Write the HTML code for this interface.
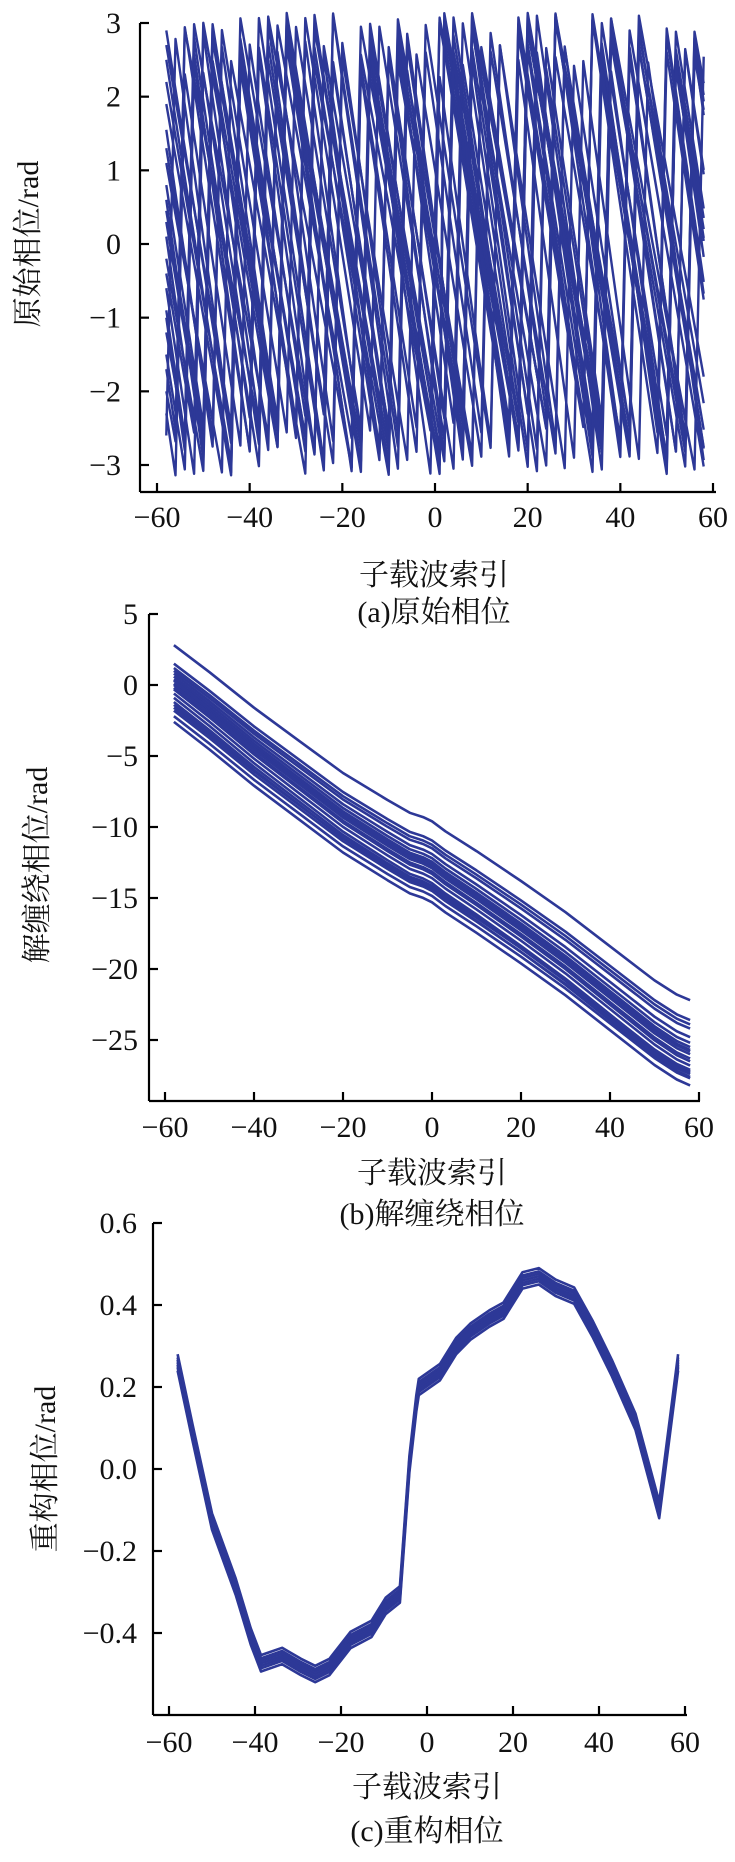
<!DOCTYPE html>
<html><head><meta charset="utf-8">
<style>
html,body{margin:0;padding:0;background:#fff;}
svg{display:block;}
text{font-family:"Liberation Serif","Noto Serif CJK SC",serif;fill:#111;}
</style></head>
<body>
<svg id="fig" width="735" height="1862" viewBox="0 0 735 1862" xmlns="http://www.w3.org/2000/svg"></svg>
<script>
// ---------- data ----------
const xTicks = [-60,-40,-20,0,20,40,60];
const aYTicks = [3,2,1,0,-1,-2,-3];
const bYTicks = [5,0,-5,-10,-15,-20,-25];
const cYTicks = [0.6,0.4,0.2,0.0,-0.2,-0.4];
const cYLabels = ["0.6","0.4","0.2","0.0","\u22120.2","\u22120.4"];

// (a) raw phase: sample indices, per-line start phase and slope (rad/subcarrier)
const aSamples = [-58,-56,-54,-52,-50,-48,-46,-44,-42,-40,-38,-36,-34,-32,-30,-28,-26,-24,-22,-20,-18,-16,-14,-12,-10,-8,-6,-4,-2,-1,1,2,4,6,8,10,12,14,16,18,20,22,24,26,28,30,32,34,36,38,40,42,44,46,48,50,52,54,56,58];
const aStart = [2.9,2.7,1.55,1.1,0.8,0.45,0.1,-0.2,-0.6,-1.5,-2.0,-2.6,2.5,1.9,0.3,-0.9,-1.2,-1.7,2.2,0.6,-0.4,-2.3,1.3,-1.0];
const aSlope = [-0.40,-0.37,-0.43,-0.35,-0.41,-0.38,-0.44,-0.36,-0.42,-0.39,-0.34,-0.45,-0.40,-0.36,-0.38,-0.43,-0.35,-0.41,-0.37,-0.44,-0.36,-0.42,-0.39,-0.45];

// (b) unwrapped phase: base curve + per-line offsets (start, end)
const bK = [-58,-50,-40,-30,-20,-10,-5,-2,0,3,10,20,30,40,50,55,58];
const bBase = [2.8,0.9,-1.6,-3.9,-6.2,-8.1,-9.0,-9.3,-9.6,-10.3,-11.7,-13.8,-16.0,-18.4,-20.8,-21.8,-22.2];
const bOffStart = [0,-1.3,-1.6,-1.8,-2.0,-2.2,-2.4,-2.5,-2.7,-2.8,-3.0,-3.1,-3.4,-3.7,-4.0,-4.2,-4.4,-4.6,-5.0,-5.4];
const bOffEnd = [0,-1.4,-1.7,-2.0,-2.6,-3.0,-3.3,-3.5,-3.6,-3.8,-4.1,-4.3,-4.6,-5.0,-5.1,-5.4,-4.9,-5.2,-5.5,-6.0];

// (c) reconstructed phase: base curve + small per-line offsets
const cK = [-58,-54.5,-50,-44.5,-41,-38.6,-33.7,-29.3,-26,-22.7,-17.8,-12.9,-9.6,-6.3,-4.1,-2.5,-1.9,3,6.8,10.1,14.5,17.8,22.2,26,29.9,34.2,38.6,43,48.5,54,58.4];
const cVal = [0.26,0.087,-0.128,-0.287,-0.408,-0.474,-0.456,-0.483,-0.50,-0.483,-0.417,-0.39,-0.334,-0.306,0.012,0.16,0.2,0.236,0.30,0.335,0.367,0.386,0.46,0.47,0.442,0.423,0.34,0.246,0.115,-0.10,0.26];
const cOff = [-0.02,-0.012,-0.006,0,0.006,0.012,0.02];

// ---------- helpers ----------
const NS = "http://www.w3.org/2000/svg";
const svg = document.getElementById('fig');
const COLOR = "#2d3897";
function el(tag, attrs, parent){
  const e = document.createElementNS(NS, tag);
  for (const k in attrs) e.setAttribute(k, attrs[k]);
  (parent||svg).appendChild(e);
  return e;
}
function lin(d0,d1,r0,r1){ return v => r0 + (v-d0)*(r1-r0)/(d1-d0); }
function fmt(v){ return (v<0?"\u2212":"") + Math.abs(v); }

function drawAxes(g, cfg){
  const {x, y, axX, axYTop, axYBot, axXRight, yTicks, yLabels, yLabRight, xLabY, xTitleY, capY, capText, yTitle, yTitlePos, xCenter} = cfg;
  const ya = el('line',{x1:axX,y1:axYTop,x2:axX,y2:axYBot,stroke:"#000","stroke-width":2.2},g);
  
  
  const xa = el('line',{x1:axX,y1:axYBot,x2:axXRight,y2:axYBot,stroke:"#000","stroke-width":2.2},g);
  
  
  yTicks.forEach((v,i)=>{
    const py = y(v);
    const t = el('line',{x1:axX,y1:py,x2:axX+9,y2:py,stroke:"#000","stroke-width":2.2},g);
    
    
    const lb = el('text',{x:yLabRight,y:py+10,"text-anchor":"end","font-size":30},g);
    lb.textContent = yLabels ? yLabels[i] : fmt(v);
    
    
  });
  xTicks.forEach(v=>{
    const px = x(v);
    const t = el('line',{x1:px,y1:axYBot,x2:px,y2:axYBot-9,stroke:"#000","stroke-width":2.2},g);
    
    
    const lb = el('text',{x:px,y:xLabY+10,"text-anchor":"middle","font-size":30},g);
    lb.textContent = fmt(v);
    
    
  });
  const xt = el('text',{x:xCenter,y:xTitleY+11,"text-anchor":"middle","font-size":30},g);
  xt.textContent = "子载波索引";
  
  
  const cp = el('text',{x:xCenter,y:capY+11,"text-anchor":"middle","font-size":30},g);
  cp.textContent = capText;
  
  
  const yt = el('text',{x:0,y:0,"text-anchor":"middle","font-size":30,transform:`translate(${yTitlePos[0]+10},${yTitlePos[1]}) rotate(-90)`},g);
  yt.textContent = yTitle;
  
  
}
function polyline(g, pts, name, w){
  const p = el('polyline',{points:pts.map(p=>p[0].toFixed(1)+","+p[1].toFixed(1)).join(" "),fill:"none",stroke:COLOR,"stroke-width":w||2.2,"stroke-linejoin":"round"},g);
  
  
}
function interp(ks, vs, k){
  for (let i=0;i<ks.length-1;i++){
    if (k<=ks[i+1]) return vs[i] + (vs[i+1]-vs[i])*(k-ks[i])/(ks[i+1]-ks[i]);
  }
  return vs[vs.length-1];
}
function wrap(p){ while(p>Math.PI) p-=2*Math.PI; while(p<-Math.PI) p+=2*Math.PI; return p; }

// ---------- chart a ----------
const gA = el('g',{});


{
  const x = lin(-60,60,157,713), y = lin(3,-3,23,465);
  const lines = el('g',{},gA);
  
  
  aStart.forEach((s,i)=>{
    const pts = aSamples.map(k=>[x(k), y(wrap(s + aSlope[i]*(k-aSamples[0])))]);
    polyline(lines, pts, 'raw-phase-line', 2.4);
  });
  drawAxes(gA,{x,y,axX:140,axYTop:23,axYBot:492,axXRight:716,yTicks:aYTicks,yLabRight:121,xLabY:517,xTitleY:574,capY:611,capText:"(a)原始相位",yTitle:"原始相位/rad",yTitlePos:[28,244],xCenter:434});
}

// ---------- chart b ----------
const gB = el('g',{});


{
  const x = lin(-60,60,165,699), y = lin(0,-25,685,1040);
  const lines = el('g',{},gB);
  
  
  bOffStart.forEach((o0,i)=>{
    const o1 = bOffEnd[i];
    const pts = bK.map(k=>[x(k), y(interp(bK,bBase,k) + o0 + (o1-o0)*(k-bK[0])/(bK[bK.length-1]-bK[0]))]);
    polyline(lines, pts, 'unwrapped-phase-line', 2.6);
  });
  drawAxes(gB,{x,y,axX:149,axYTop:614,axYBot:1101,axXRight:700,yTicks:bYTicks,yLabRight:138,xLabY:1127,xTitleY:1172,capY:1213,capText:"(b)解缠绕相位",yTitle:"解缠绕相位/rad",yTitlePos:[37,865],xCenter:432});
}

// ---------- chart c ----------
const gC = el('g',{});


{
  const x = lin(-60,60,169,685), y = lin(0.4,0,1305,1469);
  const lines = el('g',{},gC);
  
  
  cOff.forEach(o=>{
    const pts = cK.map((k,i)=>[x(k), y(cVal[i]+o)]);
    polyline(lines, pts, 'reconstructed-phase-line', 2.6);
  });
  drawAxes(gC,{x,y,axX:153,axYTop:1223,axYBot:1715,axXRight:687,yTicks:cYTicks,yLabels:cYLabels,yLabRight:137,xLabY:1742,xTitleY:1786,capY:1830,capText:"(c)重构相位",yTitle:"重构相位/rad",yTitlePos:[45,1469],xCenter:427});
}
</script>
</body></html>
